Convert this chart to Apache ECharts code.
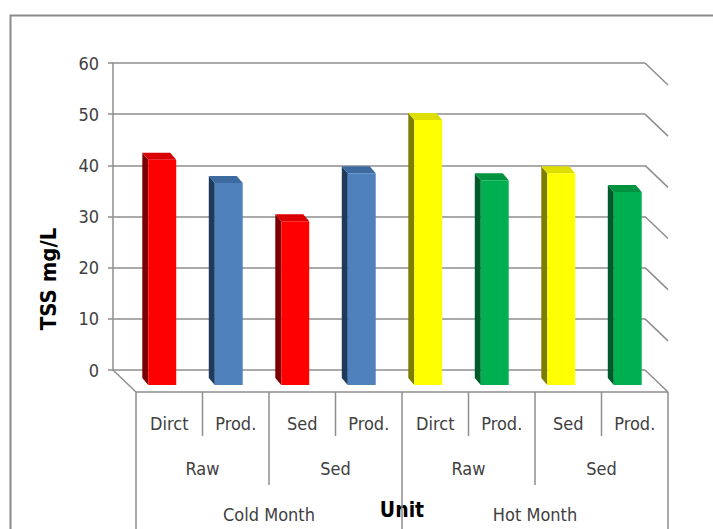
<!DOCTYPE html>
<html><head><meta charset="utf-8">
<script src="https://cdn.jsdelivr.net/npm/echarts@6.0.0/dist/echarts.min.js"></script>
<style>html,body{margin:0;padding:0;background:#fff}#c{width:713px;height:529px}</style>
</head><body><div id="c"></div>
<script>
// ---- data ----
const units = ['Dirct', 'Prod.', 'Sed', 'Prod.', 'Dirct', 'Prod.', 'Sed', 'Prod.'];
const stages = ['Raw', 'Sed', 'Raw', 'Sed'];
const months = ['Cold Month', 'Hot Month'];
const tssValues = [44, 39.5, 32, 41.4, 51.8, 40, 41.4, 37.7];
const yTicks = [0, 10, 20, 30, 40, 50, 60];
const yAxisName = 'TSS mg/L';
const xAxisName = 'Unit';

// ---- style ----
const FONT = '"DejaVu Sans Condensed","Liberation Sans Narrow","DejaVu Sans",sans-serif';
const faces = {
  red: ['#ff0000', '#7d0000', '#d80000'],
  blue: ['#4f81bd', '#1f3a5c', '#3d6a9f'],
  yellow: ['#ffff00', '#7d7d00', '#dede00'],
  green: ['#00b050', '#005a29', '#00923f']
};
const barStyle = ['red', 'blue', 'red', 'blue', 'yellow', 'green', 'yellow', 'green'];
const FLOOR = [23, 22];      // back wall -> floor front edge
const BAR_FRONT = [16, 15];  // back wall -> bar front face
const BAR_DEPTH = [-6, -7];  // bar front -> bar back
const GRID = '#8e8e8e';

const chart = echarts.init(document.getElementById('c'), null, { renderer: 'svg' });

function renderBar(params, api) {
  const i = api.value(0), v = api.value(1);
  const t = api.coord([i, v]), b = api.coord([i, 0]);
  const w = api.size([1, 0])[0] * 0.42;
  const x0 = t[0] + BAR_FRONT[0] - w / 2, x1 = x0 + w;
  const yt = t[1] + BAR_FRONT[1], yb = b[1] + BAR_FRONT[1];
  const dx = BAR_DEPTH[0], dy = BAR_DEPTH[1];
  const c = faces[barStyle[params.dataIndex]];
  return { type: 'group', children: [
    { type: 'polygon', shape: { points: [[x0, yt], [x0 + dx, yt + dy], [x0 + dx, yb + dy], [x0, yb]] }, style: { fill: c[1] } },
    { type: 'polygon', shape: { points: [[x0, yt], [x1, yt], [x1 + dx, yt + dy], [x0 + dx, yt + dy]] }, style: { fill: c[2] } },
    { type: 'rect', shape: { x: x0, y: yt, width: w, height: yb - yt }, style: { fill: c[0] } }
  ]};
}

function renderFrame(params, api) {
  const n = units.length;
  const v = api.value(1);
  const cw = api.size([1, 0])[0];
  const p = api.coord([n - 1, v]);
  const xr = p[0] + cw / 2;
  const children = [
    { type: 'line', shape: { x1: xr, y1: p[1], x2: xr + FLOOR[0], y2: p[1] + FLOOR[1] }, style: { stroke: GRID, lineWidth: 1.5 } }
  ];
  if (v === 0) {
    const l = api.coord([0, 0]);
    const xl = l[0] - cw / 2;
    children.push({ type: 'line', shape: { x1: xl, y1: l[1], x2: xl + FLOOR[0], y2: l[1] + FLOOR[1] }, style: { stroke: GRID, lineWidth: 1.5 } });
    children.push({ type: 'line', shape: { x1: xl + FLOOR[0], y1: l[1] + FLOOR[1], x2: xr + FLOOR[0], y2: l[1] + FLOOR[1] }, style: { stroke: GRID, lineWidth: 1.5 } });
  }
  return { type: 'group', children };
}

function renderLabels(params, api) {
  const n = units.length;
  const i = api.value(0);
  const cw = api.size([1, 0])[0];
  const c = api.coord([i, 0]);
  const fx = c[0] + FLOOR[0], fy = c[1] + FLOOR[1];
  const left = fx - cw / 2, right = fx + cw / 2;
  const H = api.getHeight();
  const span2 = n / stages.length, span3 = n / months.length;
  const txt = (x, y, s, bold, size) => ({ type: 'text', x, y, style: { text: s, font: (bold ? 'bold ' : '') + size + 'px ' + FONT, fill: bold ? '#000' : '#404040', align: 'center', verticalAlign: 'middle' } });
  const ln = (x, y1, y2) => ({ type: 'line', shape: { x1: x, y1, x2: x, y2 }, style: { stroke: GRID, lineWidth: 1.5 } });
  const ch = [txt(fx, fy + 31, units[i], false, 18)];
  if (i === 0) ch.push(ln(left, fy, H));
  if (i === n - 1) ch.push(ln(right, fy, H));
  else {
    const k = i + 1;
    if (k % span3 === 0) ch.push(ln(right, fy, H));
    else if (k % span2 === 0) ch.push(ln(right, fy, fy + 93));
    else ch.push(ln(right, fy, fy + 44));
  }
  if (i % span2 === 0) ch.push(txt(left + span2 * cw / 2, fy + 76, stages[i / span2], false, 18));
  if (i % span3 === 0) ch.push(txt(left + span3 * cw / 2, fy + 122, months[i / span3], false, 18));
  if (i === 0) ch.push(txt(left + n * cw / 2, fy + 118, xAxisName, true, 21));
  return { type: 'group', children: ch };
}

chart.setOption({
  animation: false,
  backgroundColor: '#fff',
  grid: { left: 113, right: 68, top: 63, bottom: 159, containLabel: false, outerBoundsMode: 'none' },
  xAxis: {
    type: 'category', data: units,
    axisLine: { show: false }, axisTick: { show: false }, axisLabel: { show: false }, splitLine: { show: false }
  },
  yAxis: {
    type: 'value', min: yTicks[0], max: yTicks[yTicks.length - 1], interval: 10,
    axisLine: { show: true, lineStyle: { color: GRID, width: 1.5 } },
    axisTick: { show: true, length: 5, lineStyle: { color: GRID, width: 1.5 } },
    axisLabel: { color: '#404040', fontSize: 18, fontFamily: FONT, margin: 14 },
    splitLine: { show: true, lineStyle: { color: GRID, width: 1.5 } }
  },
  graphic: [
    { type: 'rect', left: 8, top: 13, shape: { width: 760, height: 560 }, style: { fill: 'none', stroke: '#8a8a8a', lineWidth: 2 }, z: 100 },
    { type: 'text', x: 48, y: 279, rotation: Math.PI / 2, style: { text: yAxisName, font: 'bold 22px ' + FONT, fill: '#000', align: 'center', verticalAlign: 'middle' } }
  ],
  series: [
    { type: 'custom', name: 'frame', clip: false, z: 1, renderItem: renderFrame,
      data: yTicks.map(v => [units.length - 1, v]), silent: true },
    { type: 'custom', name: 'labels', clip: false, z: 2, renderItem: renderLabels,
      data: units.map((u, i) => [i, 0]), silent: true },
    { type: 'custom', name: 'TSS', clip: false, z: 3, renderItem: renderBar,
      data: tssValues.map((v, i) => [i, v]) }
  ]
});
</script></body></html>
